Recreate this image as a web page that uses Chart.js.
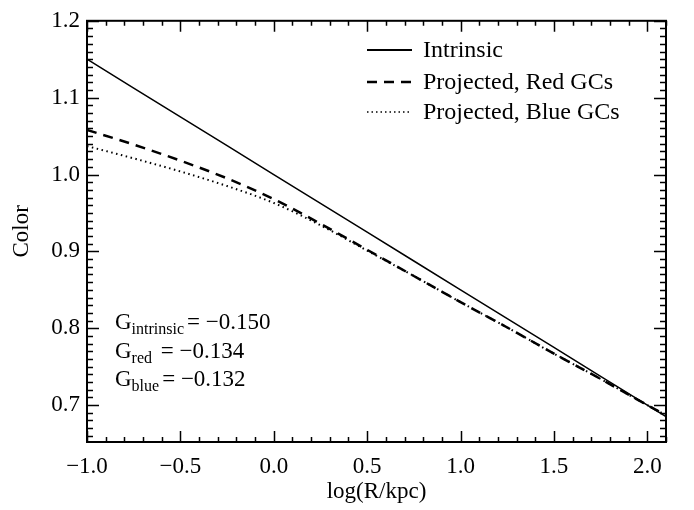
<!DOCTYPE html>
<html>
<head>
<meta charset="utf-8">
<script src="https://cdn.jsdelivr.net/npm/chart.js@4"></script>
<style>
  html, body { margin: 0; padding: 0; background: #fff; }
  #wrap { width: 694px; height: 510px; }
</style>
</head>
<body>
<div id="wrap"><canvas id="grafico" width="694" height="510"></canvas></div>
<script>
const ctx = document.getElementById('grafico');

// log(R/kpc)
const logR = [-1.0, -0.75, -0.5, -0.25, 0.0, 0.25, 0.5, 0.75, 1.0, 1.25, 1.5, 1.75, 2.0, 2.1];
const intrinseco = [1.150, 1.1125, 1.075, 1.0375, 1.000, 0.9625, 0.925, 0.8875, 0.850, 0.8125, 0.775, 0.7375, 0.700, 0.685];
const vermelho = [1.058, 1.039, 1.018, 0.995, 0.968, 0.936, 0.902, 0.868, 0.834, 0.801, 0.767, 0.734, 0.700, 0.687];
const azul = [1.037, 1.021, 1.004, 0.985, 0.963, 0.934, 0.901, 0.868, 0.834, 0.801, 0.767, 0.734, 0.700, 0.687];

const ticksX = [-1.0, -0.5, 0.0, 0.5, 1.0, 1.5, 2.0];
const rotulosX = ['\u22121.0', '\u22120.5', '0.0', '0.5', '1.0', '1.5', '2.0'];
const ticksY = [0.7, 0.8, 0.9, 1.0, 1.1, 1.2];
const rotulosY = ['0.7', '0.8', '0.9', '1.0', '1.1', '1.2'];

const nomes = ['Intrinsic', 'Projected, Red GCs', 'Projected, Blue GCs'];
const gradientes = [
    { sub: 'intrinsic', val: '= \u22120.150' },
    { sub: 'red', val: ' = \u22120.134' },
    { sub: 'blue', val: '= \u22120.132' }
];

const fonte = '"Liberation Serif", "DejaVu Serif", serif';
const tam = 23;

function pontos(ys) {
    return logR.map((x, i) => ({ x: x, y: ys[i] }));
}

// ticks para dentro nos quatro lados + moldura
const moldura = {
    id: 'moldura',
    afterDraw(chart) {
        const c = chart.ctx;
        const a = chart.chartArea;
        const sx = chart.scales.x;
        const sy = chart.scales.y;
        c.save();
        c.strokeStyle = '#000';
        c.lineWidth = 1.5;
        c.beginPath();
        for (let i = -10; i <= 21; i++) {
            const px = Math.round(sx.getPixelForValue(i / 10)) + 0.5;
            const len = (i % 5 === 0) ? 11 : 5;
            c.moveTo(px, a.bottom); c.lineTo(px, a.bottom - len);
            c.moveTo(px, a.top); c.lineTo(px, a.top + len);
        }
        for (let i = 66; i <= 120; i++) {
            const py = Math.round(sy.getPixelForValue(i / 100)) + 0.5;
            const len = (i % 10 === 0) ? 12 : 6;
            c.moveTo(a.left, py); c.lineTo(a.left + len, py);
            c.moveTo(a.right, py); c.lineTo(a.right - len, py);
        }
        c.stroke();
        c.lineWidth = 2;
        c.strokeRect(a.left, a.top, a.right - a.left, a.bottom - a.top);

        // legenda
        const estilos = [
            { dash: [], w: 2 },
            { dash: [10, 7], w: 2.5 },
            { dash: [1.5, 3], w: 1.5 }
        ];
        const ys = [50, 82, 112];
        c.font = '24px ' + fonte;
        c.fillStyle = '#000';
        c.textBaseline = 'middle';
        nomes.forEach((n, i) => {
            c.beginPath();
            c.setLineDash(estilos[i].dash);
            c.lineWidth = estilos[i].w;
            c.moveTo(367, ys[i]);
            c.lineTo(412, ys[i]);
            c.stroke();
            c.setLineDash([]);
            c.fillText(n, 423, ys[i] + 1);
        });

        // gradientes
        const gy = [321, 350, 378];
        c.textBaseline = 'alphabetic';
        gradientes.forEach((g, i) => {
            let x = 115;
            const base = gy[i] + 8;
            c.font = tam + 'px ' + fonte;
            c.fillText('G', x, base);
            x += c.measureText('G').width;
            c.font = '16px ' + fonte;
            c.fillText(g.sub, x, base + 5);
            x += c.measureText(g.sub).width + 3;
            c.font = tam + 'px ' + fonte;
            c.fillText(g.val, x, base);
        });
        c.restore();
    }
};

new Chart(ctx, {
    type: 'line',
    data: {
        datasets: [
            {
                label: nomes[0],
                data: pontos(intrinseco),
                borderColor: '#000',
                borderWidth: 1.5,
                pointRadius: 0,
                tension: 0
            },
            {
                label: nomes[1],
                data: pontos(vermelho),
                borderColor: '#000',
                borderWidth: 2.5,
                borderDash: [10, 7],
                pointRadius: 0,
                cubicInterpolationMode: 'monotone'
            },
            {
                label: nomes[2],
                data: pontos(azul),
                borderColor: '#000',
                borderWidth: 2,
                borderDash: [1.5, 3.5],
                pointRadius: 0,
                cubicInterpolationMode: 'monotone'
            }
        ]
    },
    options: {
        responsive: false,
        animation: false,
        layout: {
            padding: { left: 0, right: 28, top: 10, bottom: 0 }
        },
        scales: {
            x: {
                type: 'linear',
                min: -1.0,
                max: 2.1,
                grid: { display: false, drawTicks: false },
                border: { display: false },
                afterBuildTicks(s) {
                    s.ticks = ticksX.map(v => ({ value: v }));
                },
                afterFit(s) { s.height = 68; },
                ticks: {
                    padding: 11,
                    color: '#000',
                    maxRotation: 0,
                    autoSkip: false,
                    font: { family: fonte, size: tam },
                    callback: (v, i) => rotulosX[i]
                },
                title: {
                    display: true,
                    text: 'log(R/kpc)',
                    color: '#000',
                    font: { family: fonte, size: tam },
                    padding: { top: 0, bottom: 4 }
                }
            },
            y: {
                min: 0.652,
                max: 1.2,
                grid: { display: false, drawTicks: false },
                border: { display: false },
                afterBuildTicks(s) {
                    s.ticks = ticksY.map(v => ({ value: v }));
                },
                afterFit(s) { s.width = 87; },
                ticks: {
                    padding: 7,
                    color: '#000',
                    autoSkip: false,
                    font: { family: fonte, size: tam },
                    callback: (v, i) => rotulosY[i]
                },
                title: {
                    display: true,
                    text: 'Color',
                    color: '#000',
                    font: { family: fonte, size: tam },
                    padding: { top: 8, bottom: 0 }
                }
            }
        },
        plugins: {
            legend: { display: false },
            tooltip: { enabled: false }
        }
    },
    plugins: [moldura]
});
</script>
</body>
</html>
